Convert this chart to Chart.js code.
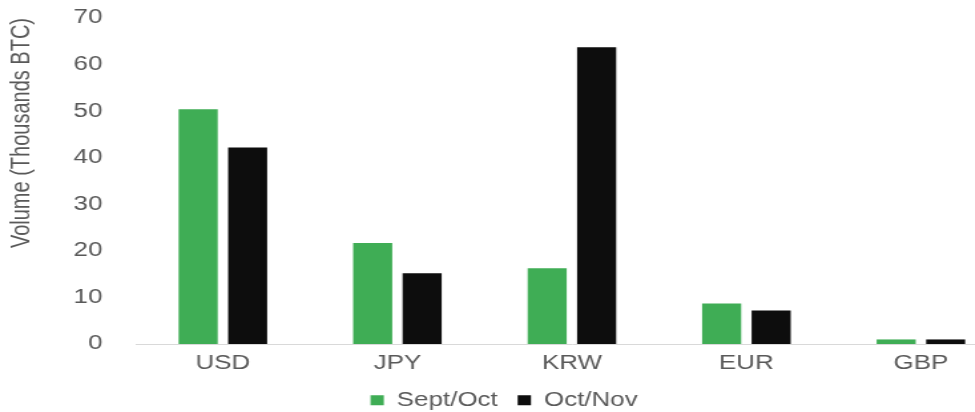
<!DOCTYPE html>
<html>
<head>
<meta charset="utf-8">
<script src="https://cdn.jsdelivr.net/npm/chart.js@4.4.0/dist/chart.umd.min.js"></script>
<style>
    html, body { margin: 0; padding: 0; background: #fff; overflow: hidden; }
    /* the source picture is stretched sideways, so draw narrow and stretch */
    #wrap { width: 758px; height: 412px; transform: scaleX(1.33); transform-origin: 0 0; }
</style>
</head>
<body>
<div id="wrap"><canvas id="volume-chart"></canvas></div>
<script>
    const currency = ["USD", "JPY", "KRW", "EUR", "GBP"];
    const septOct = [50.4, 21.7, 16.3, 8.7, 1.0];
    const octNov = [42.2, 15.2, 63.7, 7.2, 1.0];
    const yTicks = [0, 10, 20, 30, 40, 50, 60, 70];

    Chart.defaults.font.family = "'Liberation Sans', Arial, sans-serif";
    Chart.defaults.color = "#595959";

    var ctx = document.getElementById("volume-chart").getContext("2d");
    var myChart = new Chart(ctx, {
        type: "bar",
        data: {
            labels: currency,
            datasets: [{
                label: "Sept/Oct",
                data: septOct,
                backgroundColor: "#3fad55"
            },
            {
                label: "Oct/Nov",
                data: octNov,
                backgroundColor: "#0d0d0d"
            }]
        },
        options: {
            responsive: true,
            maintainAspectRatio: false,
            animation: false,
            categoryPercentage: 0.567,
            barPercentage: 0.79,
            layout: {
                padding: { top: 18, bottom: -8, left: 0, right: 0 }
            },
            plugins: {
                tooltip: { enabled: false },
                legend: {
                    position: "bottom",
                    labels: {
                        boxWidth: 10,
                        boxHeight: 10,
                        padding: 15,
                        font: { size: 19.5 }
                    }
                }
            },
            scales: {
                x: {
                    grid: { display: false },
                    border: { display: true, color: "#d9d9d9", width: 1 },
                    ticks: { font: { size: 19.5 }, padding: 0 }
                },
                y: {
                    min: 0,
                    max: 70,
                    afterBuildTicks: function (scale) {
                        scale.ticks = yTicks.map(v => ({ value: v }));
                    },
                    afterFit: function (scale) {
                        scale.width = 102;
                        // labels may stick out, the area itself stays put
                        scale.paddingTop = 0;
                        scale.paddingBottom = 0;
                    },
                    grid: { display: false },
                    border: { display: false },
                    ticks: { font: { size: 19.5 }, padding: 17 },
                    title: {
                        display: true,
                        text: "Volume (Thousands BTC)",
                        align: "end",
                        font: { size: 20 },
                        padding: { top: 4, bottom: 4 }
                    }
                }
            }
        }
    });
</script>
</body>
</html>
